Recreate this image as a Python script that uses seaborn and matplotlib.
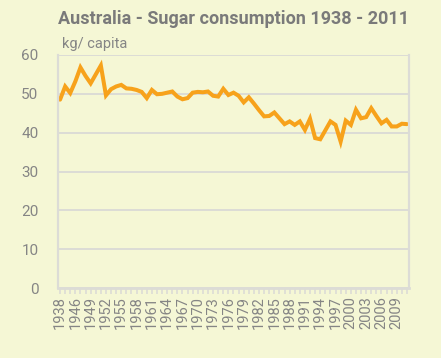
import numpy as np
import pandas as pd
import matplotlib
matplotlib.use("Agg")
import matplotlib.pyplot as plt
import seaborn as sns

years = ["1938", "1944", "1945"] + [str(y) for y in range(1946, 2012)]
consumption = [48.5, 51.9, 50.2, 53.2, 56.8, 54.6, 52.7, 55.0, 57.3, 49.6,
               51.2, 51.9, 52.3, 51.4, 51.3, 51.0, 50.5, 48.9, 51.0, 49.9,
               50.0, 50.3, 50.6, 49.3, 48.6, 48.9, 50.3, 50.5, 50.4, 50.6,
               49.5, 49.3, 51.3, 49.7, 50.3, 49.5, 47.8, 49.1, 47.5, 45.8,
               44.2, 44.3, 45.2, 43.7, 42.2, 42.9, 42.0, 42.9, 40.7, 43.6,
               38.6, 38.3, 40.6, 42.9, 42.0, 37.7, 43.1, 42.0, 45.9, 43.7,
               44.0, 46.3, 44.3, 42.4, 43.3, 41.6, 41.6, 42.3, 42.2]
yticks = [0, 10, 20, 30, 40, 50, 60]

bg = "#f5f7d5"
grid_c = "#dcdcd6"
text_c = "#858585"

sns.set_theme(style="white")
plt.rcParams['font.family'] = ['Roboto', 'DejaVu Sans']

df = pd.DataFrame({"idx": np.arange(len(years)), "year": years, "value": consumption})

fig = plt.figure(figsize=(4.41, 3.58), dpi=100, facecolor=bg)
ax = fig.add_axes([58/441, 1-288/358, (409-58)/441, (288-55)/358])
ax.set_facecolor(bg)

sns.lineplot(data=df, x="idx", y="value", ax=ax, color="#f7a21b", linewidth=2.9,
             solid_joinstyle="miter")

ax.set_xlim(-0.4, len(years) - 1 + 0.4)
ax.set_ylim(0, 60)
ax.set_yticks(yticks)
ax.set_yticklabels([str(v) for v in yticks], color=text_c, fontsize=11)
ax.yaxis.grid(True, color=grid_c, linewidth=1.4)
ax.set_axisbelow(True)

ax.set_xticks(np.arange(len(years)))
ax.set_xticklabels([y if i % 3 == 0 else "" for i, y in enumerate(years)],
                   rotation=90, color=text_c, fontsize=10.5)
ax.tick_params(axis="x", length=4, width=1.2, color=grid_c, pad=2, bottom=True)
ax.tick_params(axis="y", length=0, pad=14)

for s in ["left", "right"]:
    ax.spines[s].set_color(grid_c)
    ax.spines[s].set_linewidth(1.6)
ax.spines["top"].set_visible(False)
ax.spines["bottom"].set_color(grid_c)
ax.spines["bottom"].set_linewidth(2)
ax.set_xlabel("")
ax.set_ylabel("")

fig.text(58/441, 1-24/358, "Australia - Sugar consumption 1938 - 2011",
         color="#7a7a7a", fontsize=13, fontweight="bold", ha="left", va="baseline")
fig.text(62/441, 1-48/358, "kg/ capita", color=text_c, fontsize=10.5,
         ha="left", va="baseline")

fig.savefig("out.png", dpi=100, facecolor=bg)
